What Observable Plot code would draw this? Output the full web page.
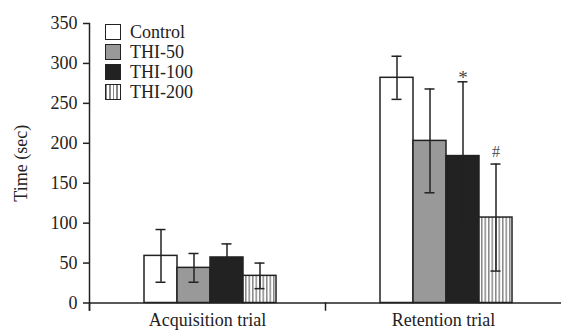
<!DOCTYPE html>
<html><head><meta charset="utf-8">
<script src="https://cdn.jsdelivr.net/npm/d3@7"></script>
<script src="https://cdn.jsdelivr.net/npm/@observablehq/plot@0.6"></script>
<style>
body{margin:0;background:#fff;}
#wrap{position:relative;width:561px;height:331px;font-family:"Liberation Serif",serif;}
.legend{position:absolute;left:105px;top:22px;font-family:"Liberation Serif",serif;font-size:18px;color:#222;line-height:20px}
.row{display:flex;align-items:center;height:20px;}
.sw{width:16px;height:16px;box-sizing:border-box;border:1.5px solid #222;margin-right:9px}
</style></head>
<body><div id="wrap"></div>
<script>
const trials = ["Acquisition trial", "Retention trial"];
const groups = ["Control", "THI-50", "THI-100", "THI-200"];
const acqMeans = [59, 44, 57, 34];
const acqErrs = [33, 18, 17, 16];
const retMeans = [282, 203, 184, 107];
const retErrs = [27, 65, 93, 67];
const yTicks = [0, 50, 100, 150, 200, 250, 300, 350];
const annoGroups = ["THI-100", "THI-200"];
const annoLabels = ["*", "#"];
const groupFills = ["#ffffff", "#999999", "#222222", "url(#stripes)"];
const legendBg = ["#ffffff", "#999999", "#222222", "repeating-linear-gradient(90deg,#888 0 1.5px,#fff 1.5px 3.5px)"];

const data = [];
groups.forEach((g, i) => {
  data.push({trial: trials[0], group: g, mean: acqMeans[i], err: acqErrs[i]});
});
groups.forEach((g, i) => {
  data.push({trial: trials[1], group: g, mean: retMeans[i], err: retErrs[i]});
});
data.forEach(d => { d.lo = d.mean - d.err; d.hi = d.mean + d.err; });
const annos = annoGroups.map((g, i) => {
  const d = data.find(e => e.trial === trials[1] && e.group === g);
  return {trial: d.trial, group: g, hi: d.hi, label: annoLabels[i]};
});

const defs = () => d3.create("svg:defs").html(
  `<pattern id="stripes" patternUnits="userSpaceOnUse" width="3.5" height="10">
     <rect width="3.5" height="10" fill="#fff"/>
     <rect width="1.5" height="10" fill="#888"/>
   </pattern>`).node();

const ink = "#222";
const chart = Plot.plot({
  width: 561,
  height: 331,
  marginLeft: 89,
  marginRight: 0,
  marginTop: 23,
  marginBottom: 28.5,
  style: {fontFamily: "'Liberation Serif', serif", fontSize: "18px", color: ink, background: "#fff", overflow: "visible"},
  fx: {domain: trials, padding: 0},
  x: {domain: groups, paddingInner: 0, paddingOuter: 1.52, align: 0.53, axis: null},
  y: {domain: [0, 350], axis: null},
  color: {domain: groups, range: groupFills},
  marks: [
    defs,
    Plot.barY(data, {fx: "trial", x: "group", y: "mean", fill: "group", stroke: ink, strokeWidth: 1.5}),
    Plot.ruleX(data, {fx: "trial", x: "group", y1: "lo", y2: "hi", stroke: ink, strokeWidth: 1.5}),
    Plot.tickY(data, {fx: "trial", x: "group", y: "hi", stroke: ink, strokeWidth: 1.5, insetLeft: 11.5, insetRight: 11.5}),
    Plot.tickY(data, {fx: "trial", x: "group", y: "lo", stroke: ink, strokeWidth: 1.5, insetLeft: 11.5, insetRight: 11.5}),
    Plot.text(annos.filter(d => d.label === "*"), {fx: "trial", x: "group", y: "hi", text: "label", lineAnchor: "bottom", dy: 2, fontSize: 19, fill: "#444"}),
    Plot.text(annos.filter(d => d.label === "#"), {fx: "trial", x: "group", y: "hi", text: "label", lineAnchor: "bottom", dy: -7, fontSize: 16, fill: "#555"}),
    Plot.ruleY([0], {stroke: ink, strokeWidth: 1.5}),
    Plot.frame({anchor: "left", facetAnchor: "left", stroke: ink, strokeWidth: 1.5, insetBottom: -7}),
    Plot.frame({anchor: "left", stroke: ink, strokeWidth: 1.5, insetTop: 279.5, insetBottom: -7}),
    Plot.axisY({ticks: yTicks, tickSize: 6, tickPadding: 6, stroke: ink, strokeWidth: 1.5, fill: ink,
      label: "Time (sec)", labelAnchor: "center", labelArrow: "none", labelOffset: 75}),
    Plot.axisFx({anchor: "bottom", tickSize: 0, tickPadding: 10, label: null, fill: ink})
  ]
});

const wrap = document.getElementById("wrap");
wrap.appendChild(chart);
const legend = document.createElement("div");
legend.className = "legend";
groups.forEach((g, i) => {
  const row = document.createElement("div");
  row.className = "row";
  const sw = document.createElement("span");
  sw.className = "sw";
  sw.style.background = legendBg[i];
  const t = document.createElement("span");
  t.textContent = g;
  row.appendChild(sw);
  row.appendChild(t);
  legend.appendChild(row);
});
wrap.appendChild(legend);
</script>
</body></html>
